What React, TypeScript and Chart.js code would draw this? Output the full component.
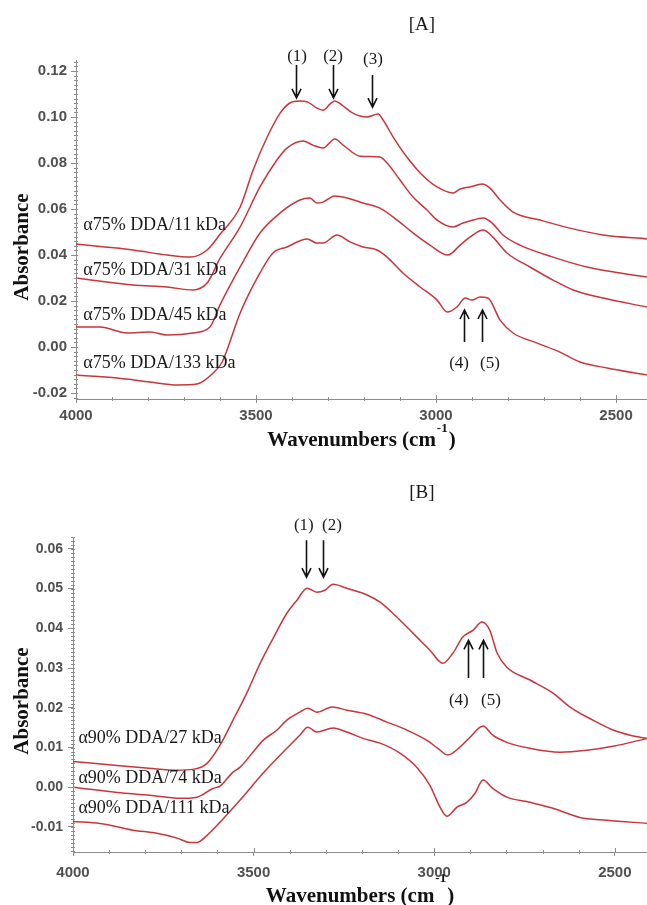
import React, { useEffect, useRef } from "react";
import { Chart, registerables } from "chart.js";

Chart.register(...registerables);

// ---------------- data ----------------
const X_TICKS = [4000, 3500, 3000, 2500];
const A_Y_TICKS = [-0.02, 0.0, 0.02, 0.04, 0.06, 0.08, 0.1, 0.12];
const B_Y_TICKS = [-0.01, 0.0, 0.01, 0.02, 0.03, 0.04, 0.05, 0.06];

const A_LABELS = ["α75% DDA/11 kDa", "α75% DDA/31 kDa", "α75% DDA/45 kDa", "α75% DDA/133 kDa"];
const B_LABELS = ["α90% DDA/27 kDa", "α90% DDA/74 kDa", "α90% DDA/111 kDa"];

// Panel A – α75% DDA
const A11_WN = [4000, 3920, 3842, 3747, 3683, 3636, 3600, 3544, 3508, 3469, 3433, 3406, 3378, 3356, 3331, 3314, 3294, 3281, 3261, 3231, 3192, 3161, 3147, 3119, 3081, 3044, 2997, 2953, 2933, 2906, 2872, 2850, 2822, 2786, 2711, 2628, 2536, 2414];
const A11_ABS = [0.0448, 0.0435, 0.0422, 0.040, 0.0391, 0.0422, 0.049, 0.0609, 0.077, 0.0913, 0.1017, 0.1061, 0.107, 0.1065, 0.1039, 0.103, 0.1057, 0.107, 0.1052, 0.1017, 0.1, 0.1013, 0.0987, 0.0913, 0.0826, 0.0757, 0.0696, 0.067, 0.0687, 0.0696, 0.0709, 0.0691, 0.0639, 0.0587, 0.0552, 0.0517, 0.0487, 0.047];

const A31_WN = [4000, 3842, 3747, 3675, 3636, 3600, 3544, 3489, 3442, 3414, 3369, 3342, 3314, 3281, 3258, 3211, 3156, 3136, 3100, 3064, 3025, 2997, 2953, 2925, 2906, 2869, 2844, 2814, 2767, 2675, 2581, 2489, 2414];
const A31_ABS = [0.030, 0.027, 0.0261, 0.0248, 0.0278, 0.0385, 0.0522, 0.0696, 0.0813, 0.0865, 0.0896, 0.0878, 0.0865, 0.0904, 0.0878, 0.083, 0.0826, 0.08, 0.0726, 0.0652, 0.0596, 0.0552, 0.0522, 0.0539, 0.0548, 0.0561, 0.0539, 0.0487, 0.0443, 0.0391, 0.0348, 0.0322, 0.0304];

const A45_WN = [4000, 3933, 3858, 3794, 3747, 3675, 3628, 3600, 3544, 3489, 3433, 3378, 3350, 3331, 3314, 3281, 3247, 3203, 3156, 3108, 3064, 3017, 2967, 2933, 2906, 2869, 2842, 2803, 2739, 2675, 2619, 2536, 2414];
const A45_ABS = [0.0087, 0.0087, 0.0061, 0.0065, 0.0052, 0.0061, 0.0087, 0.0183, 0.0348, 0.0496, 0.0583, 0.0639, 0.0648, 0.0626, 0.063, 0.0657, 0.0648, 0.0626, 0.0604, 0.0552, 0.0496, 0.0443, 0.040, 0.0443, 0.0478, 0.0509, 0.0478, 0.0409, 0.0348, 0.0291, 0.0248, 0.0213, 0.0174];

const A133_WN = [4000, 3886, 3794, 3719, 3664, 3619, 3594, 3544, 3489, 3453, 3414, 3358, 3331, 3314, 3275, 3239, 3203, 3164, 3136, 3092, 3044, 2997, 2969, 2942, 2919, 2900, 2878, 2856, 2822, 2786, 2719, 2656, 2600, 2525, 2414];
const A133_ABS = [-0.0122, -0.0135, -0.0152, -0.0165, -0.0161, -0.0113, -0.0065, 0.0148, 0.0322, 0.0409, 0.0435, 0.047, 0.0452, 0.0452, 0.0487, 0.0457, 0.0435, 0.0422, 0.0391, 0.0322, 0.0261, 0.0204, 0.0152, 0.0174, 0.0213, 0.0204, 0.0217, 0.0213, 0.0117, 0.0061, 0.0017, -0.0022, -0.0065, -0.0091, -0.0122];

// Panel B – α90% DDA
const B27_WN = [4000, 3878, 3790, 3712, 3668, 3629, 3593, 3557, 3518, 3482, 3446, 3408, 3380, 3352, 3325, 3303, 3280, 3242, 3186, 3150, 3103, 3059, 3012, 2976, 2948, 2921, 2893, 2868, 2846, 2826, 2799, 2735, 2671, 2624, 2561, 2505, 2458, 2411];
const B27_ABS = [0.0065, 0.0055, 0.0048, 0.0043, 0.0045, 0.006, 0.0106, 0.0169, 0.0239, 0.0312, 0.0375, 0.0438, 0.0471, 0.0501, 0.0491, 0.0496, 0.0511, 0.0501, 0.0484, 0.0466, 0.0428, 0.0388, 0.0345, 0.0312, 0.0338, 0.0378, 0.0395, 0.0416, 0.0395, 0.0338, 0.0302, 0.027, 0.0237, 0.0202, 0.0169, 0.0144, 0.0131, 0.0123];

const B74_WN = [4000, 3878, 3787, 3704, 3657, 3613, 3593, 3557, 3538, 3502, 3474, 3435, 3408, 3372, 3350, 3325, 3283, 3242, 3186, 3131, 3076, 3020, 2990, 2962, 2929, 2901, 2865, 2838, 2799, 2735, 2652, 2577, 2505, 2411];
const B74_ABS = [0.0, -0.0013, -0.002, -0.0028, -0.0025, -0.0003, 0.0003, 0.0038, 0.005, 0.0088, 0.0118, 0.0144, 0.0169, 0.0189, 0.0199, 0.0189, 0.0202, 0.0194, 0.0184, 0.0164, 0.0144, 0.0118, 0.0098, 0.0081, 0.0101, 0.0126, 0.0154, 0.0131, 0.0113, 0.0098, 0.0088, 0.0093, 0.0103, 0.0123];

const B111_WN = [4000, 3925, 3834, 3768, 3712, 3676, 3657, 3629, 3593, 3538, 3474, 3408, 3372, 3350, 3325, 3280, 3242, 3197, 3150, 3095, 3048, 3012, 2984, 2965, 2937, 2910, 2887, 2865, 2838, 2799, 2735, 2671, 2597, 2522, 2411];
const B111_ABS = [-0.0086, -0.0091, -0.0108, -0.0116, -0.0128, -0.0139, -0.0139, -0.0121, -0.0088, -0.0033, 0.0035, 0.0098, 0.0131, 0.0151, 0.0139, 0.0149, 0.0139, 0.0123, 0.0111, 0.0086, 0.005, 0.0005, -0.005, -0.0073, -0.005, -0.0038, -0.0015, 0.0018, -0.0003, -0.0025, -0.0038, -0.0053, -0.0076, -0.0083, -0.0091];

// ---------------- styles ----------------
const LINE_COLOR = "#c8363d";
const AXIS_COLOR = "#8c8c8c";
const TICK_COLOR = "#505050";
const SERIF = '"Liberation Serif", "Times New Roman", serif';
const SANS = '"Liberation Sans", Arial, sans-serif';

type Note = { text: string; wn: number; v: number; size: number };
type Arrow = { wn: number; from: number; to: number };
type Panel = {
  top: number; height: number; areaTop: number; areaBottom: number; areaLeft: number;
  xMin: number; xMax: number; yMin: number; yMax: number; yTicks: number[]; yMinor: number;
  yFont: number; xPad: number; yPad: number;
  series: { wn: number[]; abs: number[] }[];
  labels: string[]; labelWn: number; labelAbs: number[];
  notes: Note[]; arrows: Arrow[];
  xTitleOffset: number; supOffset: number; yTitleCenter: number;
};

const PANEL_A: Panel = {
  top: 0, height: 460, areaTop: 60, areaBottom: 399, areaLeft: 76,
  xMin: 2414, xMax: 4000, yMin: -0.0226, yMax: 0.1248, yTicks: A_Y_TICKS, yMinor: 0.002,
  yFont: 15, xPad: 4, yPad: 4,
  series: [
    { wn: A11_WN, abs: A11_ABS },
    { wn: A31_WN, abs: A31_ABS },
    { wn: A45_WN, abs: A45_ABS },
    { wn: A133_WN, abs: A133_ABS },
  ],
  labels: A_LABELS, labelWn: 3980, labelAbs: [0.053, 0.0335, 0.0139, -0.007],
  notes: [
    { text: "(1)", wn: 3386, v: 0.1261, size: 17 },
    { text: "(2)", wn: 3286, v: 0.1261, size: 17 },
    { text: "(3)", wn: 3175, v: 0.1248, size: 17 },
    { text: "(4)", wn: 2936, v: -0.0071, size: 17 },
    { text: "(5)", wn: 2850, v: -0.0071, size: 17 },
    { text: "[A]", wn: 3039, v: 0.140, size: 19 },
  ],
  arrows: [
    { wn: 3389, from: 0.1226, to: 0.1083 },
    { wn: 3286, from: 0.1226, to: 0.1083 },
    { wn: 3178, from: 0.1183, to: 0.1043 },
    { wn: 2922, from: 0.0022, to: 0.0161 },
    { wn: 2872, from: 0.0022, to: 0.0161 },
  ],
  xTitleOffset: 47, supOffset: 14, yTitleCenter: 247,
};

const PANEL_B: Panel = {
  top: 460, height: 445, areaTop: 77, areaBottom: 392, areaLeft: 73,
  xMin: 2411, xMax: 4000, yMin: -0.0163, yMax: 0.063, yTicks: B_Y_TICKS, yMinor: 0.001,
  yFont: 14, xPad: 8, yPad: 5,
  series: [
    { wn: B27_WN, abs: B27_ABS },
    { wn: B74_WN, abs: B74_ABS },
    { wn: B111_WN, abs: B111_ABS },
  ],
  labels: B_LABELS, labelWn: 3985, labelAbs: [0.0123, 0.0023, -0.0053],
  notes: [
    { text: "(1)", wn: 3361, v: 0.066, size: 17 },
    { text: "(2)", wn: 3283, v: 0.066, size: 17 },
    { text: "(4)", wn: 2932, v: 0.0219, size: 17 },
    { text: "(5)", wn: 2843, v: 0.0219, size: 17 },
    { text: "[B]", wn: 3034, v: 0.074, size: 19 },
  ],
  arrows: [
    { wn: 3355, from: 0.0622, to: 0.0529 },
    { wn: 3308, from: 0.0622, to: 0.0529 },
    { wn: 2907, from: 0.0275, to: 0.037 },
    { wn: 2865, from: 0.0275, to: 0.037 },
  ],
  xTitleOffset: 50, supOffset: 20, yTitleCenter: 241,
};

function makeDecor(p: Panel) {
  return {
    id: "decor",
    afterDraw(chart: any) {
      const { ctx, chartArea } = chart;
      const xs = chart.scales.x;
      const ys = chart.scales.y;
      const L = chartArea.left;
      const B = chartArea.bottom;
      ctx.save();

      // minor ticks
      ctx.strokeStyle = AXIS_COLOR;
      ctx.lineWidth = 1;
      ctx.beginPath();
      const kMin = Math.ceil(ys.min / p.yMinor - 1e-6);
      const kMax = Math.floor(ys.max / p.yMinor + 1e-6);
      for (let k = kMin; k <= kMax; k++) {
        const py = Math.round(ys.getPixelForValue(k * p.yMinor)) + 0.5;
        ctx.moveTo(L - 2, py);
        ctx.lineTo(L + 2, py);
      }
      const wStart = Math.ceil(xs.min / 100) * 100;
      for (let w = wStart; w <= xs.max; w += 100) {
        const px = Math.round(xs.getPixelForValue(w)) + 0.5;
        const major = w % 500 === 0;
        ctx.moveTo(px, B - (major ? 4 : 2));
        ctx.lineTo(px, B + (major ? 0 : 2));
      }
      ctx.stroke();

      // curve labels
      ctx.fillStyle = "#1a1a1a";
      ctx.font = `18px ${SERIF}`;
      ctx.textAlign = "left";
      ctx.textBaseline = "middle";
      p.labels.forEach((t, i) => {
        ctx.fillText(t, xs.getPixelForValue(p.labelWn), ys.getPixelForValue(p.labelAbs[i]));
      });

      // notes
      ctx.textAlign = "center";
      p.notes.forEach((n) => {
        ctx.font = `${n.size}px ${SERIF}`;
        ctx.fillText(n.text, xs.getPixelForValue(n.wn), ys.getPixelForValue(n.v));
      });

      // arrows
      ctx.strokeStyle = "#111";
      ctx.lineWidth = 1.6;
      p.arrows.forEach((a) => {
        const px = Math.round(xs.getPixelForValue(a.wn)) + 0.5;
        const y0 = ys.getPixelForValue(a.from);
        const y1 = ys.getPixelForValue(a.to);
        const dir = Math.sign(y1 - y0);
        ctx.beginPath();
        ctx.moveTo(px, y0);
        ctx.lineTo(px, y1);
        ctx.moveTo(px - 4.5, y1 - dir * 9);
        ctx.lineTo(px, y1);
        ctx.lineTo(px + 4.5, y1 - dir * 9);
        ctx.stroke();
      });

      // x title
      ctx.fillStyle = "#111";
      ctx.textAlign = "left";
      ctx.textBaseline = "alphabetic";
      const main = "Wavenumbers (cm";
      const sup = "-1";
      const close = ")";
      ctx.font = `bold 21px ${SERIF}`;
      const w1 = ctx.measureText(main).width;
      const w3 = ctx.measureText(close).width;
      ctx.font = `bold 13px ${SERIF}`;
      const w2 = ctx.measureText(sup).width;
      const total = w1 + w2 + w3 + 2;
      const cx = (chartArea.left + chartArea.right) / 2;
      const bx = cx - total / 2;
      const by = B + p.xTitleOffset;
      ctx.font = `bold 21px ${SERIF}`;
      ctx.fillText(main, bx, by);
      ctx.font = `bold 13px ${SERIF}`;
      ctx.fillText(sup, bx + w1 + 1, by - p.supOffset);
      ctx.font = `bold 21px ${SERIF}`;
      ctx.fillText(close, bx + w1 + w2 + 2, by);

      // y title
      ctx.save();
      ctx.translate(28, p.yTitleCenter);
      ctx.rotate(-Math.PI / 2);
      ctx.textAlign = "center";
      ctx.fillText("Absorbance", 0, 0);
      ctx.restore();

      ctx.restore();
    },
  };
}

function PanelChart({ p }: { p: Panel }) {
  const ref = useRef<HTMLCanvasElement>(null);
  useEffect(() => {
    const canvas = ref.current;
    if (!canvas) return;
    const chart = new Chart(canvas, {
      type: "line",
      data: {
        datasets: p.series.map((s) => ({
          data: s.wn.map((x, i) => ({ x, y: s.abs[i] })),
          borderColor: LINE_COLOR,
          borderWidth: 1.5,
          pointRadius: 0,
          cubicInterpolationMode: "monotone",
          fill: false,
        })),
      },
      options: {
        responsive: false,
        animation: false,
        events: [],
        layout: { padding: { top: p.areaTop, left: 0, right: 0, bottom: 0 } },
        plugins: { legend: { display: false }, tooltip: { enabled: false }, title: { display: false } },
        scales: {
          x: {
            type: "linear",
            reverse: true,
            min: p.xMin,
            max: p.xMax,
            afterBuildTicks: (s: any) => {
              s.ticks = X_TICKS.map((v) => ({ value: v }));
            },
            afterFit: (s: any) => {
              s.height = p.height - p.areaBottom;
            },
            grid: { drawOnChartArea: false, drawTicks: true, tickLength: 4, color: AXIS_COLOR },
            border: { display: true, color: AXIS_COLOR, width: 1 },
            ticks: {
              autoSkip: false,
              maxRotation: 0,
              padding: p.xPad,
              color: TICK_COLOR,
              font: { family: SANS, size: 15, weight: "bold" },
              callback: (v: any) => String(v),
            },
          },
          y: {
            type: "linear",
            min: p.yMin,
            max: p.yMax,
            afterBuildTicks: (s: any) => {
              s.ticks = p.yTicks.map((v) => ({ value: v }));
            },
            afterFit: (s: any) => {
              s.width = p.areaLeft;
            },
            grid: { drawOnChartArea: false, drawTicks: true, tickLength: 5, color: AXIS_COLOR },
            border: { display: true, color: AXIS_COLOR, width: 1 },
            ticks: {
              padding: p.yPad,
              color: TICK_COLOR,
              font: { family: SANS, size: p.yFont, weight: "bold" },
              callback: (v: any) => Number(v).toFixed(2),
            },
          },
        },
      },
      plugins: [makeDecor(p)],
    } as any);
    return () => chart.destroy();
  }, [p]);
  return (
    <canvas
      ref={ref}
      width={647}
      height={p.height}
      style={{ position: "absolute", left: 0, top: p.top, width: 647, height: p.height }}
    />
  );
}

export default function App() {
  return (
    <div style={{ position: "absolute", left: 0, top: 0, width: 647, height: 905, background: "#fff" }}>
      <PanelChart p={PANEL_A} />
      <PanelChart p={PANEL_B} />
    </div>
  );
}
